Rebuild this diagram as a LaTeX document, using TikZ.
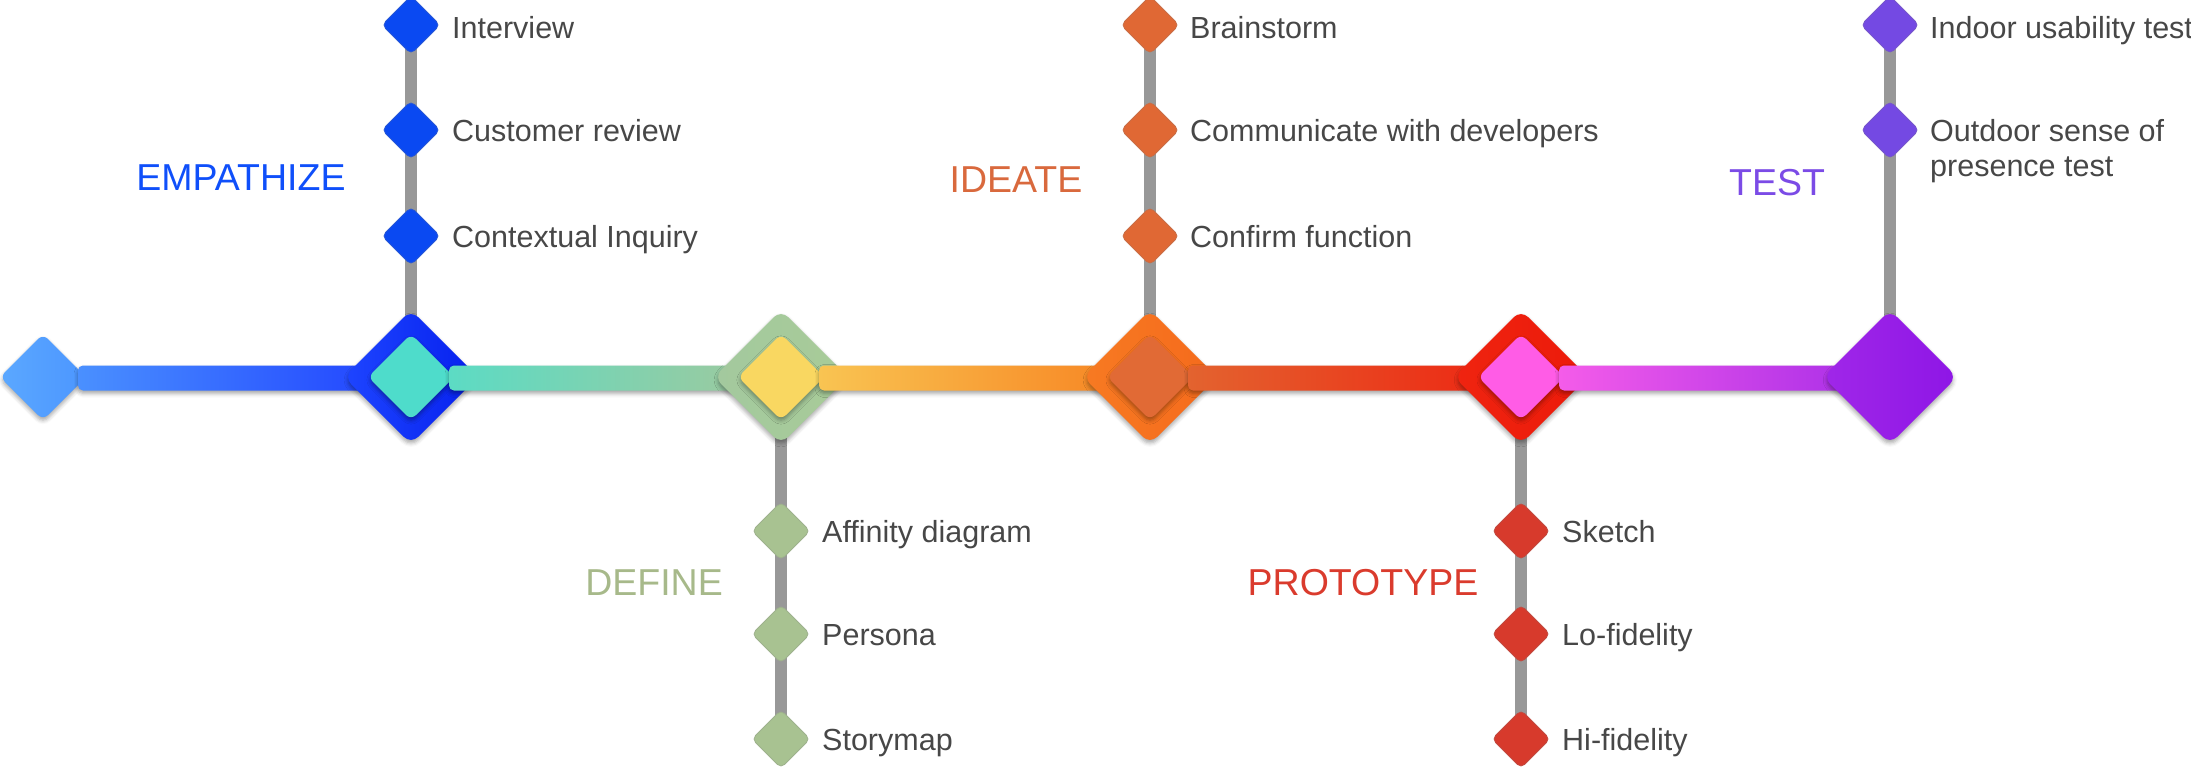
\documentclass[tikz,border=0pt]{standalone}
\usepackage{fontspec}
\setmainfont{Liberation Sans}
\usetikzlibrary{shapes.geometric,shadows.blur,calc}

% palette
\definecolor{txtgray}{HTML}{474747}
\definecolor{stemgray}{HTML}{989898}
\definecolor{startL}{HTML}{5BA8FF}
\definecolor{startR}{HTML}{4C96FF}
\definecolor{barAL}{HTML}{4A90FF}
\definecolor{barAR}{HTML}{1E3EFF}
\definecolor{empL}{HTML}{1E45FF}
\definecolor{empR}{HTML}{0620EE}
\definecolor{tealin}{HTML}{4EDCCB}
\definecolor{barBL}{HTML}{5CDBC4}
\definecolor{barBR}{HTML}{A3C89B}
\definecolor{defL}{HTML}{A3C99E}
\definecolor{defR}{HTML}{A8CB98}
\definecolor{yellowin}{HTML}{F9D761}
\definecolor{barCL}{HTML}{F9C452}
\definecolor{barCR}{HTML}{F7801F}
\definecolor{ideL}{HTML}{F77A22}
\definecolor{ideR}{HTML}{F56A1C}
\definecolor{idein}{HTML}{E16A35}
\definecolor{barDL}{HTML}{E3632F}
\definecolor{barDR}{HTML}{EE2311}
\definecolor{proL}{HTML}{EF2410}
\definecolor{proR}{HTML}{EC1A0A}
\definecolor{pinkin}{HTML}{FF5CE6}
\definecolor{barEL}{HTML}{F45CE9}
\definecolor{barER}{HTML}{A42BE8}
\definecolor{tstL}{HTML}{A027E8}
\definecolor{tstR}{HTML}{8E16E6}
\definecolor{empItem}{HTML}{0A49F2}
\definecolor{defItem}{HTML}{A8C291}
\definecolor{ideItem}{HTML}{E06834}
\definecolor{proItem}{HTML}{D73A2C}
\definecolor{tstItem}{HTML}{7449E3}
\definecolor{empText}{HTML}{0F4FFA}
\definecolor{defText}{HTML}{A7B98A}
\definecolor{ideText}{HTML}{D9693D}
\definecolor{proText}{HTML}{DA3B2D}
\definecolor{tstText}{HTML}{7B4BE6}

\newcommand\itemfont{\fontsize{30.5bp}{35bp}\selectfont}
\newcommand\phasefont{\fontsize{37.5bp}{45bp}\selectfont}

\pgfdeclarelayer{stems}
\pgfsetlayers{stems,main}

\tikzset{
  softshadow/.style={blur shadow={shadow xshift=0bp, shadow yshift=-3bp,
      shadow blur radius=4bp, shadow opacity=35}},
  bigdia/.style={diamond, aspect=1, inner sep=0pt, outer sep=0pt,
      minimum width=134bp, minimum height=134bp, rounded corners=10bp, softshadow},
  innerdia/.style={diamond, aspect=1, inner sep=0pt, outer sep=0pt,
      minimum width=86bp, minimum height=86bp, rounded corners=7bp, softshadow},
  itemdia/.style={diamond, aspect=1, inner sep=0pt, outer sep=0pt,
      minimum width=58bp, minimum height=58bp, rounded corners=5bp,
      fill=#1, draw=#1!75!gray, line width=0.8bp},
  itemtext/.style={anchor=base west, inner sep=0pt, font=\itemfont, text=txtgray},
  phase/.style={inner sep=0pt, font=\phasefont, text=#1},
  stem/.style={draw=stemgray, line width=12bp},
  bar/.style={rounded corners=5bp, softshadow},
}

\begin{document}
\begin{tikzpicture}[x=1bp,y=-1bp]
\useasboundingbox (0,0) rectangle (2191,767);

% ---- centres of the five phases on the timeline
\coordinate (c1) at (411,377);
\coordinate (c2) at (781,377);
\coordinate (c3) at (1150,377);
\coordinate (c4) at (1521,377);
\coordinate (c5) at (1890,377);

% ---- timeline: each bar runs from the previous marker into the next phase
\node[innerdia, left color=startL, right color=startR] (s0) at (43,377) {};
\shade[bar, left color=barAL, right color=barAR]
  ($(s0.east)+(-8,-11.5)$) rectangle ($(c1)+(0,13.5)$);
\node[bigdia, left color=empL, right color=empR] (b1) at (c1) {};
\node[innerdia, fill=tealin] (i1) at (c1) {};

\shade[bar, left color=barBL, right color=barBR]
  ($(i1.east)+(-5,-11.5)$) rectangle ($(c2)+(0,13.5)$);
\node[bigdia, left color=defL, right color=defR] (b2) at (c2) {};
\node[innerdia, fill=yellowin] (i2) at (c2) {};

\shade[bar, left color=barCL, right color=barCR]
  ($(i2.east)+(-5,-11.5)$) rectangle ($(c3)+(0,13.5)$);
\node[bigdia, left color=ideL, right color=ideR] (b3) at (c3) {};
\node[innerdia, fill=idein] (i3) at (c3) {};

\shade[bar, left color=barDL, right color=barDR]
  ($(i3.east)+(-5,-11.5)$) rectangle ($(c4)+(0,13.5)$);
\node[bigdia, left color=proL, right color=proR] (b4) at (c4) {};
\node[innerdia, fill=pinkin] (i4) at (c4) {};

\shade[bar, left color=barEL, right color=barER]
  ($(i4.east)+(-5,-11.5)$) rectangle ($(c5)+(0,13.5)$);
\node[bigdia, left color=tstL, right color=tstR] (b5) at (c5) {};

% ---- EMPATHIZE
\node[itemdia=empItem] (e1) at (411,25) {};
\node[itemdia=empItem] (e2) at (411,130) {};
\node[itemdia=empItem] (e3) at (411,236) {};
\node[itemtext] (e1t) at ([xshift=41bp,yshift=-14bp]e1.center) {Interview};
\node[itemtext] (e2t) at ([xshift=41bp,yshift=-11bp]e2.center) {Customer review};
\node[itemtext] (e3t) at ([xshift=41bp,yshift=-11bp]e3.center) {Contextual Inquiry};
\node[phase=empText] (eh) at (241,178) {EMPATHIZE};

% ---- DEFINE
\node[itemdia=defItem] (d1) at (781,531) {};
\node[itemdia=defItem] (d2) at (781,634) {};
\node[itemdia=defItem] (d3) at (781,739) {};
\node[itemtext] (d1t) at ([xshift=41bp,yshift=-11bp]d1.center) {Affinity diagram};
\node[itemtext] (d2t) at ([xshift=41bp,yshift=-11bp]d2.center) {Persona};
\node[itemtext] (d3t) at ([xshift=41bp,yshift=-11bp]d3.center) {Storymap};
\node[phase=defText] (dh) at (654,583) {DEFINE};

% ---- IDEATE
\node[itemdia=ideItem] (a1) at (1150,25) {};
\node[itemdia=ideItem] (a2) at (1150,130) {};
\node[itemdia=ideItem] (a3) at (1150,236) {};
\node[itemtext] (a1t) at ([xshift=40bp,yshift=-14bp]a1.center) {Brainstorm};
\node[itemtext] (a2t) at ([xshift=40bp,yshift=-11bp]a2.center) {Communicate with developers};
\node[itemtext] (a3t) at ([xshift=40bp,yshift=-11bp]a3.center) {Confirm function};
\node[phase=ideText] (ah) at (1016,180) {IDEATE};

% ---- PROTOTYPE
\node[itemdia=proItem] (p1) at (1521,531) {};
\node[itemdia=proItem] (p2) at (1521,634) {};
\node[itemdia=proItem] (p3) at (1521,739) {};
\node[itemtext] (p1t) at ([xshift=41bp,yshift=-11bp]p1.center) {Sketch};
\node[itemtext] (p2t) at ([xshift=41bp,yshift=-11bp]p2.center) {Lo-fidelity};
\node[itemtext] (p3t) at ([xshift=41bp,yshift=-11bp]p3.center) {Hi-fidelity};
\node[phase=proText] (ph) at (1363,583) {PROTOTYPE};

% ---- TEST
\node[itemdia=tstItem] (t1) at (1890,25) {};
\node[itemdia=tstItem] (t2) at (1890,130) {};
\node[itemtext] (t1t) at ([xshift=40bp,yshift=-14bp]t1.center) {Indoor usability test};
\node[itemtext, align=left] (t2t) at ([xshift=40bp,yshift=-46bp]t2.center) {Outdoor sense of\\presence test};
\node[phase=tstText] (th) at (1777,183) {TEST};

% ---- grey stems joining the activities to their phase
\begin{pgfonlayer}{stems}
  \draw[stem] (e1.center) -- (b1.center);
  \draw[stem] (b2.center) -- (d3.center);
  \draw[stem] (a1.center) -- (b3.center);
  \draw[stem] (b4.center) -- (p3.center);
  \draw[stem] (t1.center) -- (b5.center);
\end{pgfonlayer}
\end{tikzpicture}
\end{document}
